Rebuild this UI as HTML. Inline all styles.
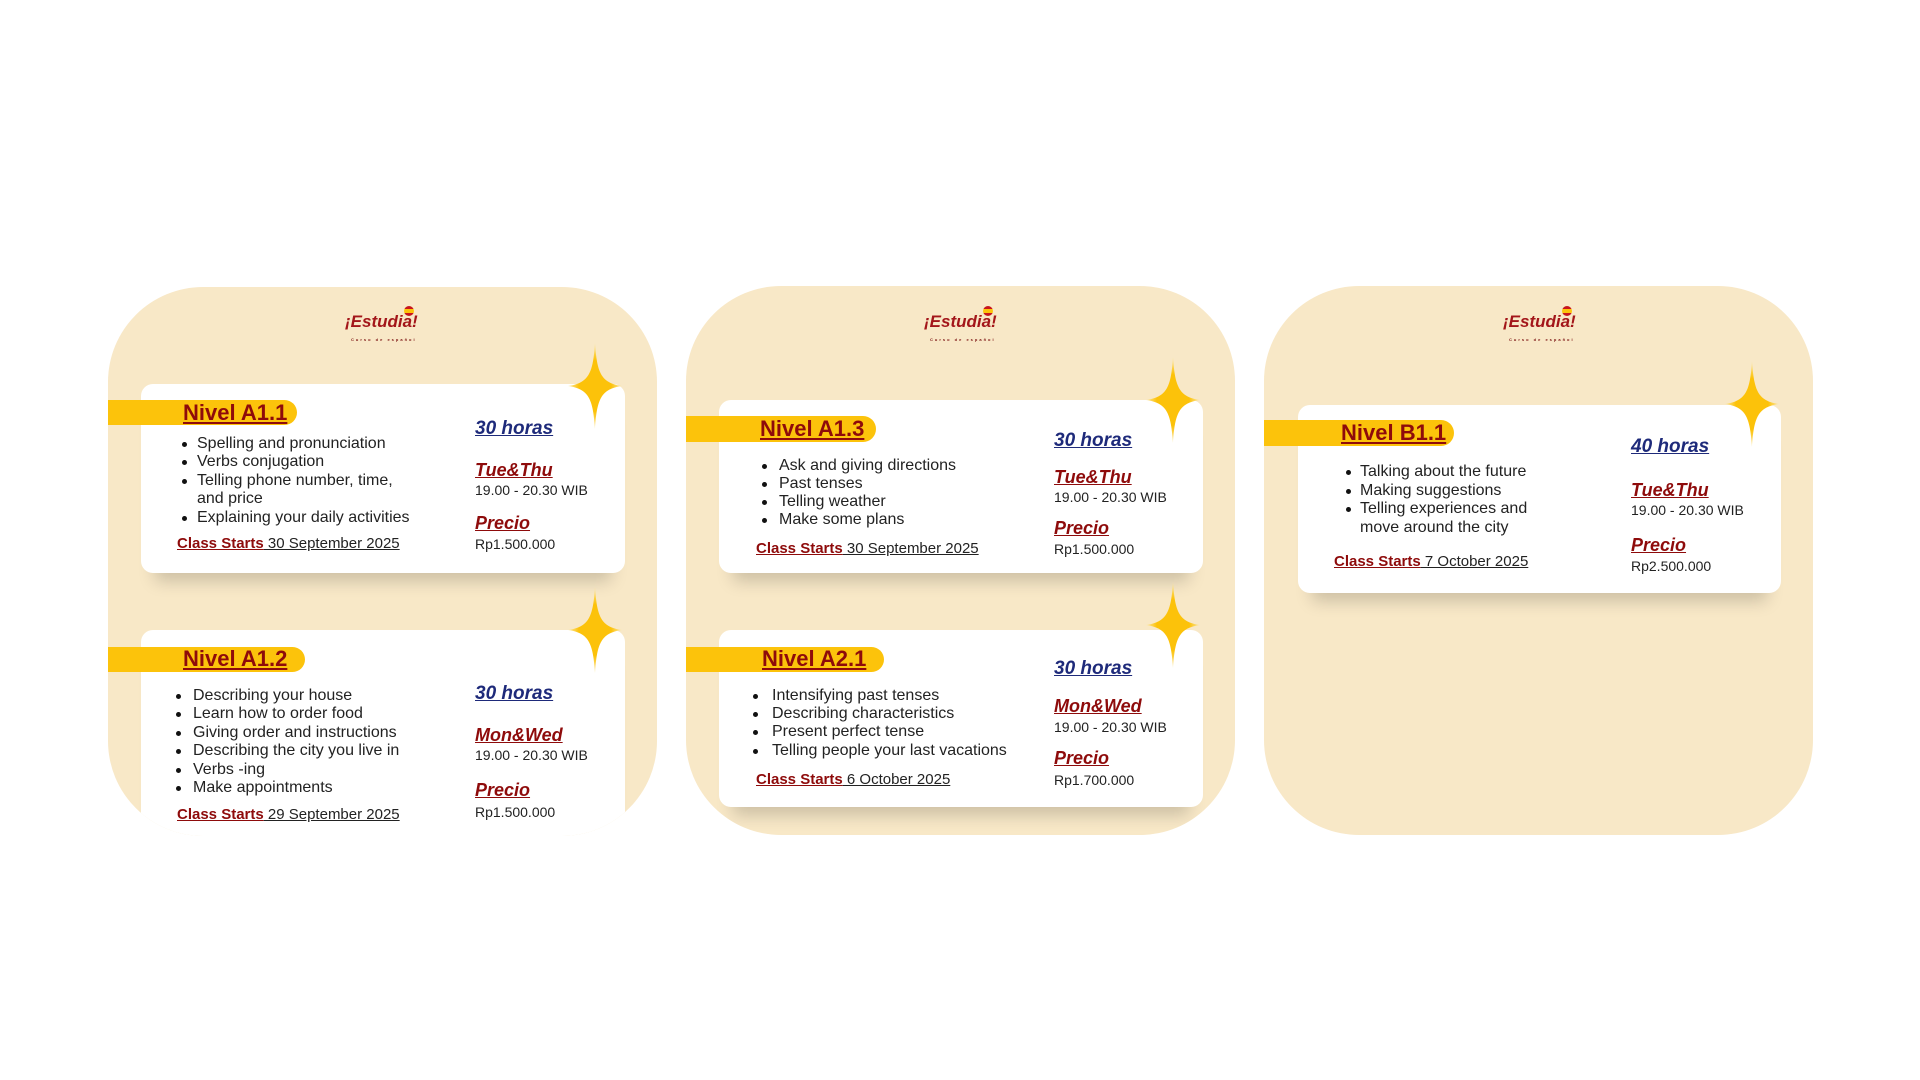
<!DOCTYPE html>
<html><head><meta charset="utf-8"><style>
*{margin:0;padding:0;box-sizing:border-box}
body{width:1920px;height:1080px;background:#fff;position:relative;overflow:hidden;font-family:"Liberation Sans",sans-serif;color:#222}
.card{position:absolute;width:549px;height:549px;border-radius:95px;background:#f8e8c7;overflow:hidden}
.box{position:absolute;background:#fff;border-radius:12px;box-shadow:0 22px 16px -14px rgba(0,0,0,0.18)}
.tab{position:absolute;background:#fcc30b;border-radius:0 14px 14px 0}
.t{position:absolute;white-space:nowrap;line-height:20px;font-size:16px}
.title{font-size:22px;font-weight:bold;color:#8e0b0b;text-decoration:underline;line-height:26px}
.hr{font-size:19px;font-weight:bold;font-style:italic;color:#1e2a7a;text-decoration:underline;line-height:24px}
.dy{font-size:18px;font-weight:bold;font-style:italic;color:#8e0b0b;text-decoration:underline;line-height:24px}
.sm{font-size:14px}
.cs{font-size:15px}
.cs b{color:#8e0b0b;text-decoration:underline}
.cs span{text-decoration:underline}
.dot{position:absolute;width:5px;height:5px;border-radius:50%;background:#111}
.logo{position:absolute;font-size:17px;font-weight:bold;font-style:italic;color:#a3161a;line-height:20px}
.logo small{position:absolute;left:6px;top:18px;font-size:4px;letter-spacing:2px;font-style:normal;color:#7a1010}
.flag{position:absolute;width:10px;height:10px;border-radius:50%;background:linear-gradient(#c8161d 0 30%,#fcc30b 30% 70%,#c8161d 70%)}
svg.star{position:absolute}
</style></head><body>
<svg width="0" height="0" style="position:absolute"><defs>
<radialGradient id="g" cx="50%" cy="50%" r="50%"><stop offset="0" stop-color="#fcc20a"/><stop offset="0.6" stop-color="#fcc20a"/><stop offset="1" stop-color="#fde9a8"/></radialGradient>
<symbol id="st" viewBox="0 0 54 86"><path d="M27 0 C29 30 33 40 54 43 C33 46 29 56 27 86 C25 56 21 46 0 43 C21 40 25 30 27 0Z" fill="url(#g)"/></symbol>
</defs></svg>

<!-- CARD 1 -->
<div class="card" style="left:108px;top:287px">
 <div class="box" style="left:33px;top:97px;width:484px;height:189px"></div>
 <div class="box" style="left:33px;top:343px;width:484px;height:260px"></div>
 <div class="tab" style="left:0;top:113px;width:189px;height:25px"></div>
 <div class="tab" style="left:0;top:360px;width:197px;height:25px"></div>
</div>
<div class="logo" style="left:345px;top:312px">¡Estudia!<small>Curso de español</small></div><div class="flag" style="left:404px;top:306px"></div>
<svg class="star" style="left:568px;top:343px" width="54" height="86"><use href="#st"/></svg>
<svg class="star" style="left:568px;top:587px" width="54" height="86"><use href="#st"/></svg>
<div class="t title" style="left:183px;top:400px">Nivel A1.1</div>
<div class="dot" style="left:182px;top:442px"></div><div class="t" style="left:197px;top:434px">Spelling and pronunciation</div>
<div class="dot" style="left:182px;top:460px"></div><div class="t" style="left:197px;top:452px">Verbs conjugation</div>
<div class="dot" style="left:182px;top:479px"></div><div class="t" style="left:197px;top:471px">Telling phone number, time,</div>
<div class="t" style="left:197px;top:489px">and price</div>
<div class="dot" style="left:182px;top:516px"></div><div class="t" style="left:197px;top:508px">Explaining your daily activities</div>
<div class="t cs" style="left:177px;top:534px"><b>Class Starts</b><span> 30 September 2025</span></div>
<div class="t hr" style="left:475px;top:417px">30 horas</div>
<div class="t dy" style="left:475px;top:458px">Tue&amp;Thu</div>
<div class="t sm" style="left:475px;top:480px">19.00 - 20.30 WIB</div>
<div class="t dy" style="left:475px;top:511px">Precio</div>
<div class="t sm" style="left:475px;top:534px">Rp1.500.000</div>

<div class="t title" style="left:183px;top:646px">Nivel A1.2</div>
<div class="dot" style="left:176px;top:694px"></div><div class="t" style="left:193px;top:686px">Describing your house</div>
<div class="dot" style="left:176px;top:712px"></div><div class="t" style="left:193px;top:704px">Learn how to order food</div>
<div class="dot" style="left:176px;top:731px"></div><div class="t" style="left:193px;top:723px">Giving order and instructions</div>
<div class="dot" style="left:176px;top:749px"></div><div class="t" style="left:193px;top:741px">Describing the city you live in</div>
<div class="dot" style="left:176px;top:768px"></div><div class="t" style="left:193px;top:760px">Verbs -ing</div>
<div class="dot" style="left:176px;top:786px"></div><div class="t" style="left:193px;top:778px">Make appointments</div>
<div class="t cs" style="left:177px;top:805px"><b>Class Starts</b><span> 29 September 2025</span></div>
<div class="t hr" style="left:475px;top:682px">30 horas</div>
<div class="t dy" style="left:475px;top:723px">Mon&amp;Wed</div>
<div class="t sm" style="left:475px;top:745px">19.00 - 20.30 WIB</div>
<div class="t dy" style="left:475px;top:778px">Precio</div>
<div class="t sm" style="left:475px;top:802px">Rp1.500.000</div>

<!-- CARD 2 -->
<div class="card" style="left:686px;top:286px">
 <div class="box" style="left:33px;top:114px;width:484px;height:173px"></div>
 <div class="box" style="left:33px;top:344px;width:484px;height:177px"></div>
 <div class="tab" style="left:0;top:130px;width:190px;height:26px"></div>
 <div class="tab" style="left:0;top:361px;width:198px;height:25px"></div>
</div>
<div class="logo" style="left:924px;top:312px">¡Estudia!<small>Curso de español</small></div><div class="flag" style="left:983px;top:306px"></div>
<svg class="star" style="left:1146px;top:357px" width="54" height="86"><use href="#st"/></svg>
<svg class="star" style="left:1146px;top:582px" width="54" height="86"><use href="#st"/></svg>
<div class="t title" style="left:760px;top:416px">Nivel A1.3</div>
<div class="dot" style="left:762px;top:464px"></div><div class="t" style="left:779px;top:456px">Ask and giving directions</div>
<div class="dot" style="left:762px;top:482px"></div><div class="t" style="left:779px;top:474px">Past tenses</div>
<div class="dot" style="left:762px;top:500px"></div><div class="t" style="left:779px;top:492px">Telling weather</div>
<div class="dot" style="left:762px;top:518px"></div><div class="t" style="left:779px;top:510px">Make some plans</div>
<div class="t cs" style="left:756px;top:539px"><b>Class Starts</b><span> 30 September 2025</span></div>
<div class="t hr" style="left:1054px;top:429px">30 horas</div>
<div class="t dy" style="left:1054px;top:465px">Tue&amp;Thu</div>
<div class="t sm" style="left:1054px;top:487px">19.00 - 20.30 WIB</div>
<div class="t dy" style="left:1054px;top:516px">Precio</div>
<div class="t sm" style="left:1054px;top:539px">Rp1.500.000</div>

<div class="t title" style="left:762px;top:646px">Nivel A2.1</div>
<div class="dot" style="left:753px;top:694px"></div><div class="t" style="left:772px;top:686px">Intensifying past tenses</div>
<div class="dot" style="left:753px;top:712px"></div><div class="t" style="left:772px;top:704px">Describing characteristics</div>
<div class="dot" style="left:753px;top:730px"></div><div class="t" style="left:772px;top:722px">Present perfect tense</div>
<div class="dot" style="left:753px;top:749px"></div><div class="t" style="left:772px;top:741px">Telling people your last vacations</div>
<div class="t cs" style="left:756px;top:770px"><b>Class Starts</b><span> 6 October 2025</span></div>
<div class="t hr" style="left:1054px;top:657px">30 horas</div>
<div class="t dy" style="left:1054px;top:694px">Mon&amp;Wed</div>
<div class="t sm" style="left:1054px;top:717px">19.00 - 20.30 WIB</div>
<div class="t dy" style="left:1054px;top:746px">Precio</div>
<div class="t sm" style="left:1054px;top:770px">Rp1.700.000</div>

<!-- CARD 3 -->
<div class="card" style="left:1264px;top:286px">
 <div class="box" style="left:34px;top:119px;width:483px;height:188px"></div>
 <div class="tab" style="left:0;top:134px;width:190px;height:26px"></div>
</div>
<div class="logo" style="left:1503px;top:312px">¡Estudia!<small>Curso de español</small></div><div class="flag" style="left:1562px;top:306px"></div>
<svg class="star" style="left:1725px;top:361px" width="54" height="86"><use href="#st"/></svg>
<div class="t title" style="left:1341px;top:420px">Nivel B1.1</div>
<div class="dot" style="left:1346px;top:470px"></div><div class="t" style="left:1360px;top:462px">Talking about the future</div>
<div class="dot" style="left:1346px;top:489px"></div><div class="t" style="left:1360px;top:481px">Making suggestions</div>
<div class="dot" style="left:1346px;top:507px"></div><div class="t" style="left:1360px;top:499px">Telling experiences and</div>
<div class="t" style="left:1360px;top:518px">move around the city</div>
<div class="t cs" style="left:1334px;top:552px"><b>Class Starts</b><span> 7 October 2025</span></div>
<div class="t hr" style="left:1631px;top:435px">40 horas</div>
<div class="t dy" style="left:1631px;top:478px">Tue&amp;Thu</div>
<div class="t sm" style="left:1631px;top:500px">19.00 - 20.30 WIB</div>
<div class="t dy" style="left:1631px;top:533px">Precio</div>
<div class="t sm" style="left:1631px;top:556px">Rp2.500.000</div>
</body></html>
